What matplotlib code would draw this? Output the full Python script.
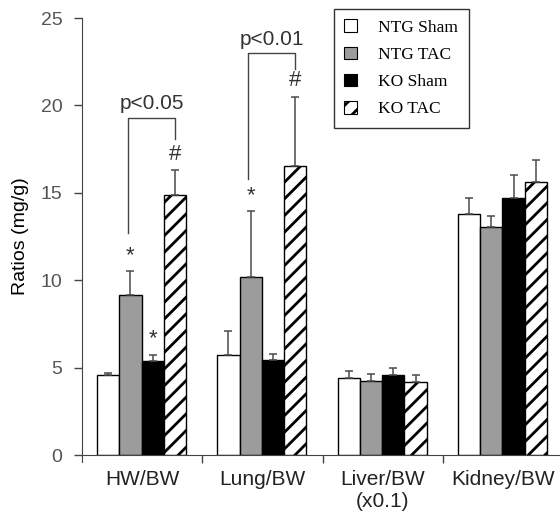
import numpy as np
from matplotlib import pyplot as plt
from matplotlib.patches import Patch

plt.rcParams['font.family'] = ['Liberation Sans', 'DejaVu Sans']
plt.rcParams['hatch.linewidth'] = 2.0

groups = ['HW/BW', 'Lung/BW', 'Liver/BW\n(x0.1)', 'Kidney/BW']
series = ['NTG Sham', 'NTG TAC', 'KO Sham', 'KO TAC']

ntg_sham = [4.58, 5.74, 4.42, 13.80]
ntg_tac = [9.15, 10.17, 4.25, 13.03]
ko_sham = [5.40, 5.43, 4.58, 14.68]
ko_tac = [14.87, 16.53, 4.16, 15.64]

ntg_sham_err = [0.12, 1.35, 0.38, 0.88]
ntg_tac_err = [1.35, 3.79, 0.38, 0.62]
ko_sham_err = [0.34, 0.35, 0.41, 1.32]
ko_tac_err = [1.43, 3.97, 0.40, 1.26]

values = [ntg_sham, ntg_tac, ko_sham, ko_tac]
errors = [ntg_sham_err, ntg_tac_err, ko_sham_err, ko_tac_err]

# star / hash marks: (group, series, symbol)
marks = [(0, 1, '*'), (0, 2, '*'), (0, 3, '#'), (1, 1, '*'), (1, 3, '#')]
# brackets: group, left bottom, right bottom, top, label
brackets = [(0, 12.7, 18.1, 19.3, 'p<0.05'), (1, 15.8, 22.1, 23.0, 'p<0.01')]

styles = [
	dict(color='white', hatch=None),
	dict(color='#9c9c9c', hatch=None),
	dict(color='black', hatch=None),
	dict(color='white', hatch='//'),
]

fig = plt.figure(figsize=(5.6, 5.16), dpi=100)
bw = 0.185
x0 = 0.125
xmax = 3.97
ax_w = xmax*120.3
ax = fig.add_axes([82/560, 61/516, ax_w/560, 437/516])

x = np.arange(len(groups))
for k, (vals, errs, st) in enumerate(zip(values, errors, styles)):
	pos = x + x0 + k*bw
	ax.bar(pos, vals, width=bw, align='edge', color=st['color'], hatch=st['hatch'],
		edgecolor='black', linewidth=1.0)
	ax.errorbar(pos + bw/2, vals, yerr=[np.zeros(len(vals)), errs], fmt='none',
		ecolor='#4a4a4a', elinewidth=1.1, capsize=3, capthick=1.1)

for g, s, sym in marks:
	cx = g + x0 + s*bw + bw/2
	top = values[s][g] + errors[s][g]
	ax.text(cx, top + 0.3, sym, ha='center', va='bottom', fontsize=16, color='#333333')

for g, lb, rb, top, lab in brackets:
	lx = g + x0 + 1*bw + bw/2 - 0.02
	rx = g + x0 + 3*bw + bw/2
	ax.plot([lx, lx, rx, rx], [lb, top, top, rb], color='#444444', lw=1.0)
	ax.text((lx + rx)/2, top + 0.25, lab, ha='center', va='bottom', fontsize=15,
		color='#333333')

ax.set_xlim(0, xmax)
ax.set_ylim(0, 25)
ax.set_yticks([0, 5, 10, 15, 20, 25])
ax.set_xticks(x + 0.5)
ax.set_xticklabels(groups, fontsize=15, color='#222222', linespacing=1.2)
ax.set_xticks([1, 2, 3], minor=True)
ax.tick_params(axis='x', which='major', length=0, pad=11)
ax.tick_params(axis='x', which='minor', length=6, width=1, direction='out', color='#444444')
ax.tick_params(axis='y', length=6, width=1, pad=8, labelsize=14, labelcolor='#555555',
	color='#444444')
for sp in ['top', 'right']:
	ax.spines[sp].set_visible(False)
ax.spines['left'].set_bounds(-0.4, 25)
ax.spines['left'].set_color('#444444')
ax.spines['bottom'].set_color('#444444')
ax.set_ylabel('Ratios (mg/g)', fontsize=14, color='black')
ax.yaxis.set_label_coords((29 - 82)/ax_w, 0.5)

handles = [Patch(facecolor=st['color'], edgecolor='black', hatch=st['hatch'], linewidth=0.8)
	for st in styles]
leg = fig.legend(handles, series, loc='upper left', bbox_to_anchor=(334/560, 1 - 9/516),
	borderaxespad=0, frameon=True, fancybox=False, edgecolor='black',
	prop={'family': 'Liberation Serif', 'size': 12.5},
	handlelength=0.75, handleheight=0.75, handletextpad=1.2, labelspacing=0.62,
	borderpad=0.6)
leg.get_frame().set_linewidth(1.0)

fig.savefig('out.png', dpi=100)
